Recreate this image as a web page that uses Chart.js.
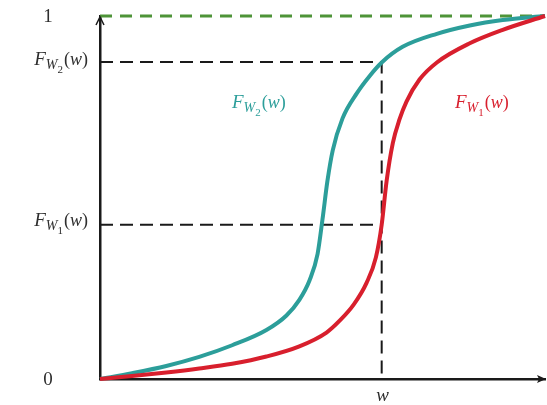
<!DOCTYPE html>
<html>
<head>
<meta charset="utf-8">
<script src="https://cdn.jsdelivr.net/npm/chart.js@4/dist/chart.umd.min.js"></script>
<style>
html,body{margin:0;padding:0;background:#fff;}
#wrap{width:547px;height:405px;position:relative;}
</style>
</head>
<body>
<div id="wrap"><canvas id="c" width="547" height="405"></canvas></div>
<script>
// ---- data ----
const tealX = [0, 0.072, 0.149, 0.223, 0.297, 0.374, 0.419, 0.448, 0.471, 0.489, 0.500, 0.511, 0.523, 0.545, 0.577, 0.606, 0.633, 0.680, 0.757, 0.831, 0.905, 1.0];
const tealY = [0, 0.016, 0.036, 0.061, 0.093, 0.135, 0.175, 0.218, 0.272, 0.345, 0.440, 0.545, 0.630, 0.718, 0.787, 0.835, 0.872, 0.915, 0.951, 0.974, 0.989, 1.0];
const redX  = [0, 0.072, 0.149, 0.223, 0.297, 0.374, 0.448, 0.509, 0.538, 0.570, 0.599, 0.620, 0.633, 0.644, 0.658, 0.673, 0.689, 0.718, 0.757, 0.831, 0.905, 1.0];
const redY  = [0, 0.008, 0.018, 0.029, 0.042, 0.062, 0.090, 0.128, 0.160, 0.205, 0.265, 0.335, 0.425, 0.545, 0.650, 0.715, 0.765, 0.825, 0.872, 0.925, 0.962, 1.0];
const wValue = 0.633;
const fw2Value = 0.873;
const fw1Value = 0.425;
const yTickValues = [0, 1];
const yTickLabels = ['0', '1'];
const xTickLabel = 'w';

const pts = (xs, ys) => xs.map((x, i) => ({x: x, y: ys[i]}));

const TEAL = '#2c9e9a';
const RED = '#d81f2d';
const GREEN = '#4e9438';
const DARK = '#1a1a1a';
const TEXT = '#2e2e2e';

function drawFLabel(ctx, x, baseline, n, color, align) {
  const parts = [
    {t: 'F', f: 'italic 19px "Liberation Serif"', dy: 0},
    {t: 'W', f: 'italic 14px "Liberation Serif"', dy: 4},
    {t: String(n), f: '11px "Liberation Serif"', dy: 8},
    {t: '(', f: '18px "Liberation Serif"', dy: 0, pad: 1},
    {t: 'w', f: 'italic 18px "Liberation Serif"', dy: 0},
    {t: ')', f: '18px "Liberation Serif"', dy: 0}
  ];
  let total = 0;
  parts.forEach(p => { ctx.font = p.f; p.w = ctx.measureText(p.t).width + (p.pad || 0); total += p.w; });
  let cx = align === 'right' ? x - total : x;
  ctx.fillStyle = color;
  ctx.textAlign = 'left';
  ctx.textBaseline = 'alphabetic';
  parts.forEach(p => { ctx.font = p.f; ctx.fillText(p.t, cx + (p.pad || 0), baseline + p.dy); cx += p.w; });
}

const annot = {
  id: 'annot',
  afterDraw(chart) {
    const ctx = chart.ctx;
    const xs = chart.scales.x, ys = chart.scales.y;
    const x0 = xs.getPixelForValue(0), y0 = ys.getPixelForValue(0);
    const xEnd = xs.right, yTop = ys.top;
    ctx.save();
    // arrow heads
    ctx.strokeStyle = DARK; ctx.fillStyle = DARK; ctx.lineWidth = 1.5;
    ctx.beginPath();
    ctx.moveTo(x0 - 4, yTop + 9); ctx.lineTo(x0, yTop + 1); ctx.lineTo(x0 + 4, yTop + 9);
    ctx.stroke();
    ctx.beginPath();
    ctx.moveTo(xEnd + 1, y0); ctx.lineTo(xEnd - 8, y0 - 4); ctx.lineTo(xEnd - 6, y0); ctx.lineTo(xEnd - 8, y0 + 4); ctx.closePath();
    ctx.fill();
    // tick labels
    ctx.fillStyle = TEXT;
    ctx.font = '19px "Liberation Serif"';
    ctx.textAlign = 'center'; ctx.textBaseline = 'middle';
    yTickValues.forEach((v, i) => ctx.fillText(yTickLabels[i], 48, ys.getPixelForValue(v) + 1));
    ctx.font = 'italic 19px "Liberation Serif"';
    ctx.fillText(xTickLabel, xs.getPixelForValue(wValue) + 1, 396);
    drawFLabel(ctx, 88, ys.getPixelForValue(fw2Value) + 3, 2, TEXT, 'right');
    drawFLabel(ctx, 88, ys.getPixelForValue(fw1Value) + 1, 1, TEXT, 'right');
    // curve labels
    drawFLabel(ctx, 232, 108, 2, TEAL, 'left');
    drawFLabel(ctx, 455, 108, 1, RED, 'left');
    ctx.restore();
  }
};

new Chart(document.getElementById('c'), {
  type: 'scatter',
  data: {
    datasets: [
      {data: [{x: 0, y: 1}, {x: 1, y: 1}], showLine: true, borderColor: GREEN, borderWidth: 3, borderDash: [12, 8], pointRadius: 0, clip: 6, order: 5},
      {data: [{x: 0, y: fw2Value}, {x: wValue, y: fw2Value}, {x: wValue, y: 0}], showLine: true, borderColor: DARK, borderWidth: 2, borderDash: [13, 7], pointRadius: 0, order: 4},
      {data: [{x: 0, y: fw1Value}, {x: wValue, y: fw1Value}], showLine: true, borderColor: DARK, borderWidth: 2, borderDash: [13, 7], pointRadius: 0, order: 3},
      {data: pts(tealX, tealY), showLine: true, borderColor: TEAL, borderWidth: 4, pointRadius: 0, cubicInterpolationMode: 'monotone', clip: 6, order: 2},
      {data: pts(redX, redY), showLine: true, borderColor: RED, borderWidth: 4, pointRadius: 0, cubicInterpolationMode: 'monotone', clip: 6, order: 1}
    ]
  },
  options: {
    responsive: false,
    animation: false,
    events: [],
    layout: {padding: {left: 100, right: 2, top: 16, bottom: 26}},
    plugins: {legend: {display: false}, tooltip: {enabled: false}},
    scales: {
      x: {type: 'linear', min: 0, max: 1, ticks: {display: false}, grid: {display: false, drawTicks: false}, border: {color: DARK, width: 2.5}},
      y: {type: 'linear', min: 0, max: 1, ticks: {display: false}, grid: {display: false, drawTicks: false}, border: {color: DARK, width: 2.5}}
    }
  },
  plugins: [annot]
});
</script>
</body>
</html>
